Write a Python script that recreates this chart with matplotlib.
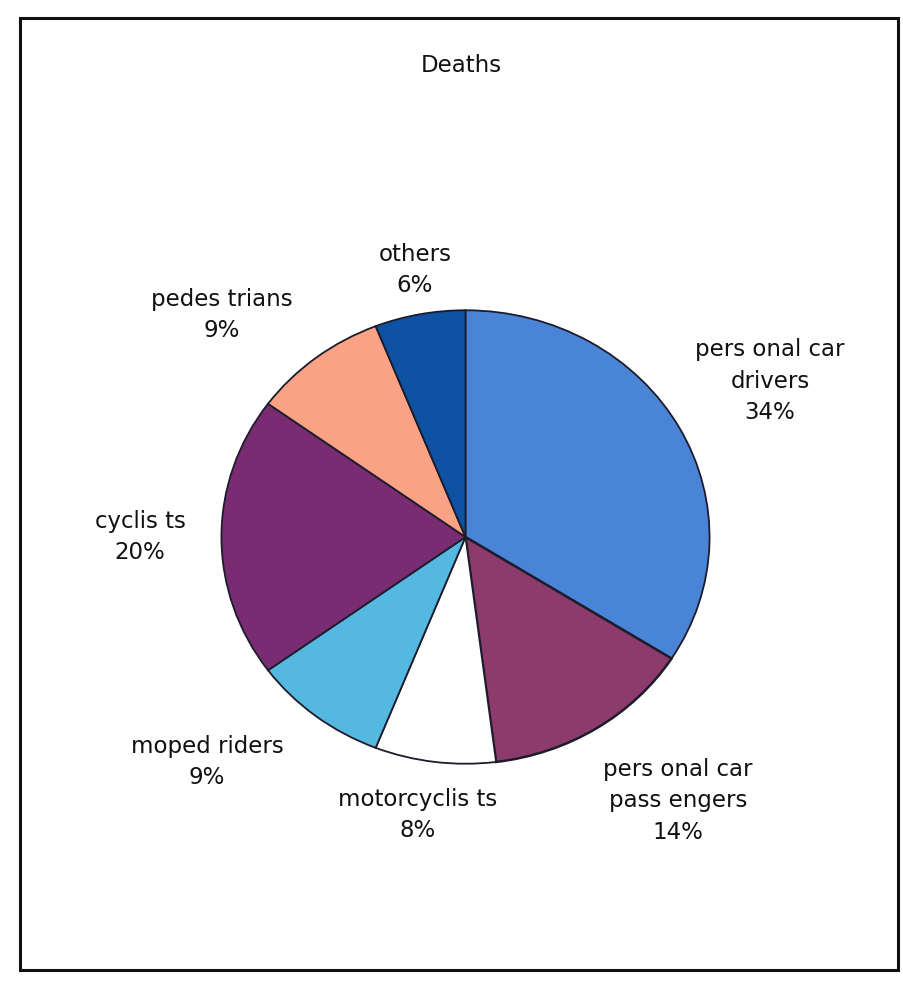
import matplotlib
matplotlib.use("Agg")
import matplotlib.pyplot as plt
from matplotlib.patches import Rectangle

# Road traffic deaths by road-user category (shares in percent)
categories = ["pers onal car\ndrivers", "pers onal car\npass engers", "motorcyclis ts",
              "moped riders", "cyclis ts", "pedes trians", "others"]
shares = [34, 14, 8, 9, 20, 9, 6]
colors = ["#4a84d6", "#8c3b6c", "#ffffff", "#55b8e0", "#7a2c72", "#f9a285", "#0d52a3"]
title = "Deaths"

W, H = 904, 983
fig = plt.figure(figsize=(W / 100, H / 100), dpi=100)
fig.patch.set_facecolor("white")

def fx(px):
    return px / W

def fy(py):
    return 1 - py / H

# outer frame
fig.add_artist(Rectangle((fx(20), fy(970)), fx(898) - fx(20), fy(18) - fy(970),
                         transform=fig.transFigure, fill=False, edgecolor="#111111",
                         linewidth=2.2))

# pie axes (slightly squashed vertically)
left, right, top, bottom = 219, 712, 308, 766
ax = fig.add_axes([fx(left), fy(bottom), fx(right) - fx(left), fy(top) - fy(bottom)])
wedges, _ = ax.pie(shares, colors=colors, startangle=90, counterclock=False,
                   wedgeprops=dict(edgecolor="#1c1c2c", linewidth=1.3))
# heavier shaded edge on the passengers wedge
wedges[1].set_linewidth(1.8)
ax.set_aspect("auto")
ax.set_xlim(-1.01, 1.01)
ax.set_ylim(-1.01, 1.01)
ax.axis("off")

font = dict(family="DejaVu Sans", fontsize=16.5, color="#111111",
            ha="center", va="center", linespacing=1.45)

fig.text(fx(461), fy(66), title, **font)

# label anchor points (pixel centres of each text block)
label_pos = [(770, 381), (678, 801), (418, 815), (207, 762),
             (140, 537), (222, 315), (415, 270)]
for name, val, (px, py) in zip(categories, shares, label_pos):
    fig.text(fx(px), fy(py), f"{name}\n{val}%", **font)

fig.savefig("out.png", dpi=100, facecolor="white")
